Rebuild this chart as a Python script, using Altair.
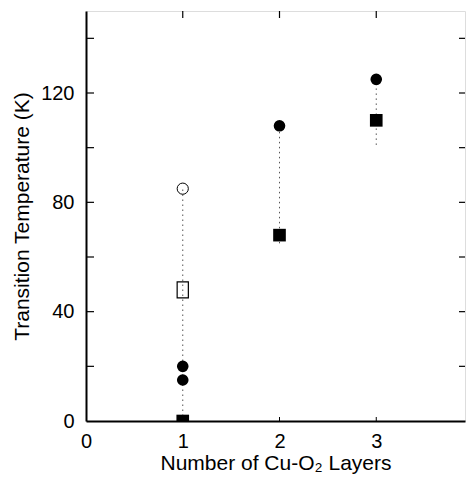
import altair as alt
import pandas as pd

# ---- data ----
layers = [1, 1, 1, 1, 1, 2, 2, 3, 3]
temps = [85, 48, 20, 15, 0, 108, 68, 125, 110]
kinds = ["open circle", "open rect", "circle", "circle", "square",
         "circle", "square", "circle", "square"]

range_x = [1, 2, 3]
range_lo = [0, 65, 101]
range_hi = [85, 108, 125]

x_labels = [0, 1, 2, 3]
y_labels = [0, 40, 80, 120]
y_minor = [20, 40, 60, 80, 100, 120, 140]
x_minor = [1, 2, 3]

UNIT = 96.75          # px per layer in the reference
W, H = 379, 410
XMAX = W / UNIT       # right edge of the visible frame (reference is cropped there)
FONT = "Liberation Sans"

pts = pd.DataFrame({"layers": layers, "temp": temps, "kind": kinds})
rng = pd.DataFrame({"layers": range_x, "lo": range_lo, "hi": range_hi})
yt = pd.DataFrame({"v": y_minor})
xt = pd.DataFrame({"v": x_minor})

xscale = alt.Scale(domain=[0, XMAX], nice=False, zero=False)
yscale = alt.Scale(domain=[0, 150], nice=False, zero=False)

xaxis = alt.Axis(values=x_labels, format="d", ticks=False, grid=False,
                 labelFontSize=20, labelPadding=10, labelFont=FONT,
                 labelColor="black", domainColor="black", domainWidth=2,
                 title="Number of Cu-O₂ Layers", titleFont=FONT,
                 titleFontSize=21, titleFontWeight="normal", titleColor="black",
                 titlePadding=1, labelFlush=False)
yaxis = alt.Axis(values=y_labels, format="d", ticks=False, grid=False,
                 labelFontSize=20, labelPadding=12, labelFont=FONT,
                 labelColor="black", domainColor="black", domainWidth=2,
                 title="Transition Temperature (K)", titleFont=FONT,
                 titleFontSize=21, titleFontWeight="normal", titleColor="black",
                 titlePadding=8, labelFlush=False)

base = alt.Chart(pts)

ranges = alt.Chart(rng).mark_rule(color="#555", strokeWidth=1, strokeDash=[1.5, 3.5]).encode(
    x=alt.X("layers:Q", scale=xscale, axis=xaxis),
    y=alt.Y("lo:Q", scale=yscale, axis=yaxis),
    y2="hi:Q",
)

filled_c = base.transform_filter(alt.datum.kind == "circle").mark_circle(
    size=135, color="black", opacity=1).encode(
    x=alt.X("layers:Q", scale=xscale), y=alt.Y("temp:Q", scale=yscale))

filled_s = base.transform_filter(alt.datum.kind == "square").mark_square(
    size=160, color="black", opacity=1, clip=True).encode(
    x=alt.X("layers:Q", scale=xscale), y=alt.Y("temp:Q", scale=yscale))

open_c = base.transform_filter(alt.datum.kind == "open circle").mark_point(
    shape="circle", size=125, filled=False, color="black", strokeWidth=1, opacity=1).encode(
    x=alt.X("layers:Q", scale=xscale), y=alt.Y("temp:Q", scale=yscale))

open_r = base.transform_filter(alt.datum.kind == "open rect").mark_point(
    shape="M-0.7,-1L0.7,-1L0.7,1L-0.7,1Z", size=256, filled=False,
    color="black", strokeWidth=1.2, opacity=1).encode(
    x=alt.X("layers:Q", scale=xscale), y=alt.Y("temp:Q", scale=yscale))

left_ticks = alt.Chart(yt).mark_rule(color="black", strokeWidth=1.2).encode(
    y=alt.Y("v:Q", scale=yscale), x=alt.value(0), x2=alt.value(8))
right_ticks = alt.Chart(yt).mark_rule(color="black", strokeWidth=1.2).encode(
    y=alt.Y("v:Q", scale=yscale), x=alt.value(W - 6), x2=alt.value(W))
top_ticks = alt.Chart(xt).mark_rule(color="black", strokeWidth=1.2).encode(
    x=alt.X("v:Q", scale=xscale), y=alt.value(0), y2=alt.value(7))
bottom_ticks = alt.Chart(xt).mark_rule(color="black", strokeWidth=1).encode(
    x=alt.X("v:Q", scale=xscale), y=alt.value(H), y2=alt.value(H - 4))

chart = alt.layer(
    ranges, left_ticks, right_ticks, top_ticks, bottom_ticks,
    open_c, open_r, filled_c, filled_s,
).properties(
    width=W, height=H,
    autosize=alt.AutoSizeParams(type="none"),
    padding={"left": 78, "top": 3, "right": 1, "bottom": 53},
).configure_view(
    stroke="black", strokeWidth=1.5
).configure(background="white")

chart.save("out.html", embed_options={"renderer": "svg", "actions": False})
